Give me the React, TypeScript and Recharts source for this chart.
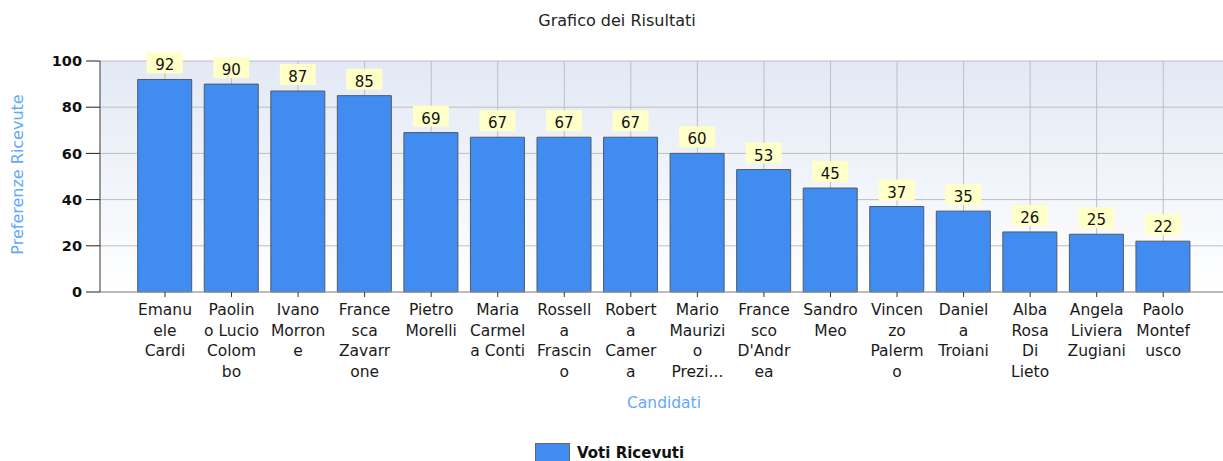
import { Bar, BarChart, CartesianGrid, Label, LabelList, XAxis, YAxis } from "recharts";

const candidates = [
  "Emanuele Cardi",
  "Paolino Lucio Colombo",
  "Ivano Morrone",
  "Francesca Zavarrone",
  "Pietro Morelli",
  "Maria Carmela Conti",
  "Rossella Frascino",
  "Roberta Camera",
  "Mario Maurizio Prezioso",
  "Francesco D'Andrea",
  "Sandro Meo",
  "Vincenzo Palermo",
  "Daniela Troiani",
  "Alba Rosa Di Lieto",
  "Angela Liviera Zugiani",
  "Paolo Montefusco",
];

// how the original chart wrapped each name under its bar
const tickLines = [
  "Emanu\nele\nCardi",
  "Paolin\no Lucio\nColom\nbo",
  "Ivano\nMorron\ne",
  "France\nsca\nZavarr\none",
  "Pietro\nMorelli",
  "Maria\nCarmel\na Conti",
  "Rossell\na\nFrascin\no",
  "Robert\na\nCamer\na",
  "Mario\nMaurizi\no\nPrezi...",
  "France\nsco\nD'Andr\nea",
  "Sandro\nMeo",
  "Vincen\nzo\nPalerm\no",
  "Daniel\na\nTroiani",
  "Alba\nRosa\nDi\nLieto",
  "Angela\nLiviera\nZugiani",
  "Paolo\nMontef\nusco",
];

const votes = [92, 90, 87, 85, 69, 67, 67, 67, 60, 53, 45, 37, 35, 26, 25, 22];
const yTicks = [0, 20, 40, 60, 80, 100];

const FONT = "'DejaVu Sans', sans-serif";
const BAR_COLOR = "#418CF0";
const AXIS_TITLE_COLOR = "#63A9FA";
const GRID_COLOR = "#BEBEBE";

const data = candidates.map((name, i) => ({ name, lines: tickLines[i], votes: votes[i] }));

const CandidateTick = (props: any) => {
  const { x, y, payload } = props;
  const row = data.find((d) => d.name === payload.value);
  const lines = (row ? row.lines : String(payload.value)).split("\n");
  return (
    <text x={x} y={y} textAnchor="middle" fontFamily={FONT} fontSize={15.5} fill="#1a1a1a">
      {lines.map((line, i) => (
        <tspan key={i} x={x} dy={i === 0 ? 16 : 20.5}>
          {line}
        </tspan>
      ))}
    </text>
  );
};

const ValueBadge = (props: any) => {
  const { x, y, width, value } = props;
  const cx = Number(x) + Number(width) / 2;
  const top = Number(y);
  return (
    <g>
      <rect x={cx - 18} y={top - 27} width={36} height={21} fill="#FFFFC8" />
      <text x={cx} y={top - 9} textAnchor="middle" fontFamily={FONT} fontSize={15} fill="#111">
        {value}
      </text>
    </g>
  );
};

const App = () => {
  return (
    <div
      style={{
        position: "absolute",
        left: 0,
        top: 0,
        width: 1223,
        height: 461,
        overflow: "hidden",
        background: "#fff",
        fontFamily: FONT,
      }}
    >
      <div
        style={{
          position: "absolute",
          left: 0,
          top: 12,
          width: 1234,
          textAlign: "center",
          fontSize: 16,
          lineHeight: "18px",
          color: "#222",
          whiteSpace: "nowrap",
        }}
      >
        Grafico dei Risultati
      </div>
      <BarChart
        width={1240}
        height={461}
        data={data}
        margin={{ top: 61, right: 9.5, bottom: 59, left: 0 }}
      >
        <defs>
          <linearGradient id="plotBg" x1="0" y1="0" x2="0" y2="1">
            <stop offset="0%" stopColor="#E2E9F5" />
            <stop offset="100%" stopColor="#FFFFFF" />
          </linearGradient>
        </defs>
        <CartesianGrid stroke={GRID_COLOR} fill="url(#plotBg)" fillOpacity={1} />
        <XAxis
          dataKey="name"
          interval={0}
          height={110}
          padding={{ left: 31.7, right: 34 }}
          tick={<CandidateTick />}
          tickSize={5}
          tickLine={{ stroke: "#333" }}
          axisLine={{ stroke: "#999" }}
        >
          <Label
            content={() => (
              <text x={664} y={408} textAnchor="middle" fontFamily={FONT} fontSize={15.5} fill={AXIS_TITLE_COLOR}>
                Candidati
              </text>
            )}
          />
        </XAxis>
        <YAxis
          width={100}
          domain={[0, 100]}
          ticks={yTicks}
          interval={0}
          tickSize={14}
          tickMargin={4}
          tick={{ fontFamily: FONT, fontSize: 14.5, fontWeight: 700, fill: "#111" }}
          tickLine={{ stroke: "#222" }}
          axisLine={{ stroke: "#555" }}
        >
          <Label
            content={() => (
              <text
                x={17}
                y={174.5}
                textAnchor="middle"
                dominantBaseline="central"
                transform="rotate(-90 17 174.5)"
                fontFamily={FONT}
                fontSize={16}
                fill={AXIS_TITLE_COLOR}
              >
                Preferenze Ricevute
              </text>
            )}
          />
        </YAxis>
        <Bar
          dataKey="votes"
          name="Voti Ricevuti"
          fill={BAR_COLOR}
          stroke="#4F5B66"
          strokeWidth={1}
          barSize={54}
          isAnimationActive={false}
        >
          <LabelList dataKey="votes" content={<ValueBadge />} />
        </Bar>
      </BarChart>
      <div
        style={{
          position: "absolute",
          left: 535,
          top: 443,
          display: "flex",
          alignItems: "flex-start",
          whiteSpace: "nowrap",
        }}
      >
        <div
          style={{
            width: 33,
            height: 18,
            background: BAR_COLOR,
            border: "1px solid #666",
          }}
        />
        <div style={{ marginLeft: 7, fontSize: 15, fontWeight: 700, lineHeight: "18px", color: "#111", marginTop: 1 }}>
          Voti Ricevuti
        </div>
      </div>
    </div>
  );
};

export default App;
